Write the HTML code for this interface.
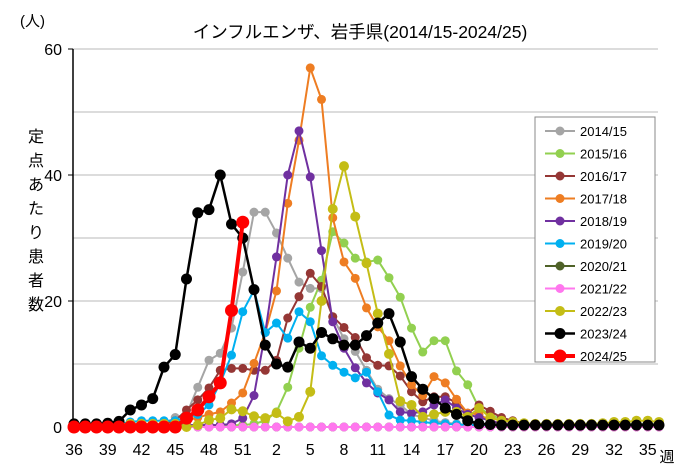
<!DOCTYPE html>
<html><head><meta charset="utf-8"><style>
body{margin:0;background:#fff;}
svg{display:block;font-family:"Liberation Sans","Noto Sans CJK JP",sans-serif;}
</style></head><body>
<svg id="s" width="690" height="476" xmlns="http://www.w3.org/2000/svg">
<rect width="690" height="476" fill="#fff"/>
<text x="360" y="38" font-size="17.5" text-anchor="middle">インフルエンザ、岩手県(2014/15-2024/25)</text>
<text x="20" y="26" font-size="15">(人)</text>
<g font-size="16" text-anchor="middle">
<text x="36" y="142">定</text><text x="36" y="166">点</text><text x="36" y="190">あ</text><text x="36" y="214">た</text><text x="36" y="238">り</text><text x="36" y="262">患</text><text x="36" y="286">者</text><text x="36" y="310">数</text>
</g>
<g id="grid"></g>
<g id="series"></g>
<g id="legend"></g>
</svg>
<script>
const NS="http://www.w3.org/2000/svg";
const s=document.getElementById('s');
function el(t,a,p){const e=document.createElementNS(NS,t);for(const k in a)e.setAttribute(k,a[k]);(p||s).appendChild(e);return e;}
const X=i=>74+11.25*i, Y=v=>427-6.3*v;
const g=document.getElementById('grid');
for(let v=10;v<=60;v+=10) el('line',{x1:73,x2:658,y1:Y(v),y2:Y(v),stroke:'#d0d0d0','stroke-width':1.5},g);
el('line',{x1:73,x2:73,y1:49,y2:427,stroke:'#000','stroke-width':1.5},g);
el('line',{x1:73,x2:658,y1:427,y2:427,stroke:'#000','stroke-width':1.5},g);
[0,20,40,60].forEach(v=>{el('line',{x1:68,x2:73,y1:Y(v),y2:Y(v),stroke:'#000'},g);const t=el('text',{x:62,y:Y(v)+6,'font-size':16,'text-anchor':'end'},g);t.textContent=v;});
const labs=[36,39,42,45,48,51,2,5,8,11,14,17,20,23,26,29,32,35];
labs.forEach((l,k)=>{const t=el('text',{x:X(k*3),y:455,'font-size':16,'text-anchor':'middle'},g);t.textContent=l;});
const w=el('text',{x:667,y:462,'font-size':15,'text-anchor':'middle'},g);w.textContent='週';
function pad(a,f){while(a.length<53)a.push(f);return a;}
const z=n=>Array(n).fill(0.3);
const data=[
['2014/15','#a5a5a5',2,4.5,pad([0.5,0.5,0.5,0.5,0.5,0.5,0.5,0.5,0.5,1.5,2,6.3,10.6,11.7,15.7,24.6,34.1,34.1,30.8,26.8,23,22,22,17.5,14,12,9,6,4.5,3.5,2,1.5,1,0.7,0.5],0.4)],
['2015/16','#92d050',2,4.5,pad([...z(15),0.3,0.5,1,2.4,6.3,12.5,19,23.3,31,29.2,26.8,26.2,26.5,23.7,20.6,15.7,11.9,13.7,13.7,8.9,6.7,3,2,1.2,0.8],0.5)],
['2016/17','#953735',2,4.5,pad([0.3,0.3,0.3,0.3,0.3,0.3,0.3,0.3,0.5,1,2.7,4.3,6.2,9,9.3,9.3,9,9,10.6,17.3,20.7,24.4,22.3,17.5,15.8,14.2,11,9.8,9.7,8.1,5.6,4,4.8,4.8,3.8,2.2,3.5,2.5,1.5,1,0.6],0.4)],
['2017/18','#ee7d22',2,4.5,pad([0.3,0.3,0.3,0.3,0.3,0.3,0.3,0.3,0.3,0.5,1,1.5,2,2.4,3.8,5.4,10.1,15,21.6,35.5,45.5,57,52,33.2,26.2,23.6,18.9,15.9,13.7,9.7,6.7,5,8,7,4.4,2.2,2,1,0.6],0.4)],
['2018/19','#7030a0',2,4.5,pad([...z(14),0.5,1.4,5,15,27,40,47,39.7,28,16.7,12.5,9.4,7,5.4,4.3,2.4,2.2,2.4,3.5,4.3,3,2,1.5,1,0.6],0.4)],
['2019/20','#00b0f0',2,4.5,pad([0.5,0.5,0.5,0.5,0.5,0.8,1,1,1,1,1.5,2,3.5,7,11.4,18.3,21.7,15,16.5,14.1,18.3,16.7,11.3,9.8,8.7,7.8,8.7,5.6,1.9,1.1,1,0.8,0.6,0.5,0.4],0.3)],
['2020/21','#4f6228',2,4.5,pad([],0)],
['2021/22','#ff77ee',2,4.5,pad([],0)],
['2022/23','#c4bd16',2,5,pad([0.5,0.5,0.5,0.5,0.5,0.5,0.5,0.5,0.5,0.5,0,0.3,1.1,1.4,2.8,2.5,1.7,1.4,2.2,0.9,1.6,5.6,20,34.6,41.4,33.4,26,18,11.6,4.1,3.5,1.6,2,2.4,2.4,1.6,3,1.5,1,0.8,0.6,0.5,0.5,0.5,0.5,0.5,0.5,0.6,0.8,0.8,1,1],0.8)],
['2023/24','#000000',2.5,5.5,pad([0.5,0.5,0.5,0.6,0.9,2.7,3.5,4.5,9.5,11.5,23.5,34,34.5,40,32.2,30,21.8,13,10,9.5,13.5,12.5,15,14,13,13,14.5,16.5,18,13.5,8,6,4.5,3,2,1,0.5,0.4,0.3],0.3)],
['2024/25','#ff0000',4,6.5,[0,0,0,0,0,0,0,0,0,0,1.4,2.7,4.8,7,18.5,32.5]]
];
const sg=document.getElementById('series');
data.forEach(([n,c,lw,r,d])=>{
 el('polyline',{points:d.map((v,i)=>X(i)+','+Y(v)).join(' '),fill:'none',stroke:c,'stroke-width':lw,'stroke-linejoin':'round'},sg);
 d.forEach((v,i)=>el('circle',{cx:X(i),cy:Y(v),r:r,fill:c},sg));
});
const lg=document.getElementById('legend');
el('rect',{x:535,y:117,width:120,height:245,fill:'#fff',stroke:'#888','stroke-width':1},lg);
data.forEach(([n,c,lw,r],k)=>{const y=131+22.5*k;
 el('line',{x1:545,x2:575,y1:y,y2:y,stroke:c,'stroke-width':lw},lg);
 el('circle',{cx:560,cy:y,r:r,fill:c},lg);
 const t=el('text',{x:580,y:y+5,'font-size':13},lg);t.textContent=n;});
</script>
</body></html>
